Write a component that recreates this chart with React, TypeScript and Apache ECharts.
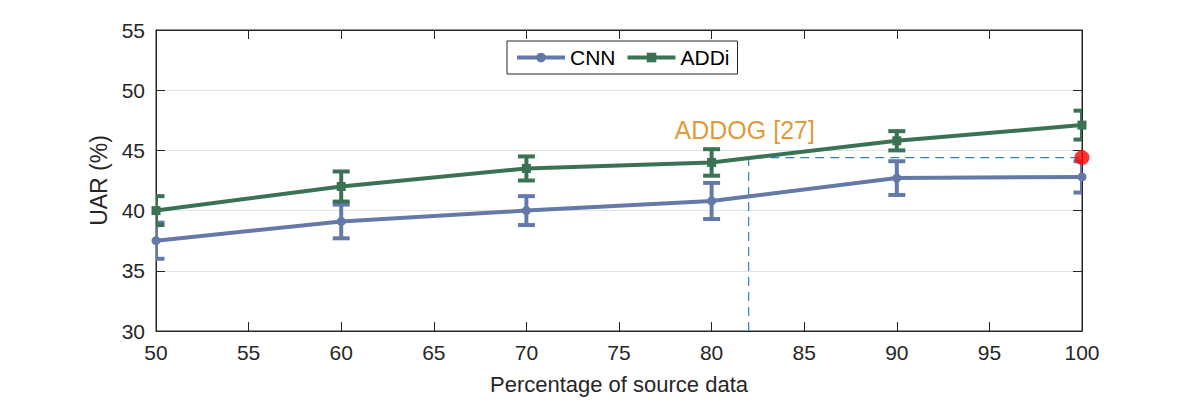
import React, { useEffect, useRef } from 'react';
import * as echarts from 'echarts';

// x positions (percentage of source data)
const percentages = [50, 60, 70, 80, 90, 100];

// mean UAR and error half-widths
const cnnValues = [37.5, 39.1, 40.0, 40.8, 42.7, 42.8];
const cnnErrors = [1.5, 1.4, 1.2, 1.5, 1.4, 1.3];
const addiValues = [40.0, 42.0, 43.5, 44.0, 45.8, 47.1];
const addiErrors = [1.2, 1.25, 1.0, 1.1, 0.8, 1.2];

// reference result of ADDOG [27]
const addogValue = 44.4;
const addogPercent = 82;
const addogLabelPos = [78, 46.7];

const CNN_COLOR = '#6579A8';
const ADDI_COLOR = '#3B7254';
const FONT = 'Liberation Sans, Arial, Helvetica, sans-serif';

const errorSeries = (name: string, values: number[], errors: number[], color: string) => ({
  name,
  type: 'custom',
  clip: true,
  z: 3,
  itemStyle: { color },
  data: percentages.map((p, i) => [p, values[i] - errors[i], values[i] + errors[i]]),
  renderItem: (params: any, api: any) => {
    const x = api.value(0);
    const lo = api.coord([x, api.value(1)]);
    const hi = api.coord([x, api.value(2)]);
    const hw = 8.5;
    const style = { stroke: color, lineWidth: 4, fill: 'none' };
    return {
      type: 'group',
      children: [
        { type: 'line', shape: { x1: lo[0], y1: lo[1], x2: hi[0], y2: hi[1] }, style },
        { type: 'line', shape: { x1: hi[0] - hw, y1: hi[1], x2: hi[0] + hw, y2: hi[1] }, style },
        { type: 'line', shape: { x1: lo[0] - hw, y1: lo[1], x2: lo[0] + hw, y2: lo[1] }, style }
      ]
    };
  }
});

const App: React.FC = () => {
  const chartRef = useRef<HTMLDivElement>(null);

  useEffect(() => {
    if (!chartRef.current) return;
    const chart = echarts.init(chartRef.current, undefined, { renderer: 'svg' });

    const axisText = { fontSize: 21, color: '#262626', fontFamily: FONT };

    const option: any = {
      animation: false,
      backgroundColor: '#ffffff',
      grid: {
        left: 156,
        right: 114,
        top: 30,
        bottom: 73,
        containLabel: false,
        show: true,
        borderColor: '#262626',
        borderWidth: 1
      },
      legend: {
        left: 507,
        top: 41,
        data: ['CNN', 'ADDi'],
        backgroundColor: '#ffffff',
        borderColor: '#262626',
        borderWidth: 1,
        padding: [6, 8, 6, 8],
        itemWidth: 48,
        itemHeight: 12,
        itemGap: 10,
        lineStyle: { width: 4 },
        textStyle: { fontSize: 21, color: '#000', fontFamily: FONT }
      },
      xAxis: [
        {
          type: 'value',
          min: 50,
          max: 100,
          interval: 5,
          name: 'Percentage of source data',
          nameLocation: 'middle',
          nameGap: 42,
          nameTextStyle: { fontSize: 22, color: '#262626', fontFamily: FONT },
          axisLine: { show: true, onZero: false, lineStyle: { color: '#262626', width: 1 } },
          axisTick: { show: true, inside: true, length: 9, lineStyle: { color: '#262626' } },
          axisLabel: { ...axisText, margin: 11 },
          splitLine: { show: false }
        },
        {
          type: 'value',
          position: 'top',
          min: 50,
          max: 100,
          interval: 5,
          axisLine: { show: true, onZero: false, lineStyle: { color: '#262626', width: 1 } },
          axisTick: { show: true, inside: true, length: 9, lineStyle: { color: '#262626' } },
          axisLabel: { show: false },
          splitLine: { show: false }
        }
      ],
      yAxis: [
        {
          type: 'value',
          min: 30,
          max: 55,
          interval: 5,
          name: 'UAR (%)',
          nameLocation: 'middle',
          nameGap: 45,
          nameTextStyle: { fontSize: 23, color: '#262626', fontFamily: FONT },
          axisLine: { show: true, onZero: false, lineStyle: { color: '#262626', width: 1 } },
          axisTick: { show: true, inside: true, length: 9, lineStyle: { color: '#262626' } },
          axisLabel: { ...axisText, margin: 11 },
          splitLine: { show: true, lineStyle: { color: '#e3e3e3', width: 1 } }
        },
        {
          type: 'value',
          position: 'right',
          min: 30,
          max: 55,
          interval: 5,
          axisLine: { show: true, onZero: false, lineStyle: { color: '#262626', width: 1 } },
          axisTick: { show: true, inside: true, length: 9, lineStyle: { color: '#262626' } },
          axisLabel: { show: false },
          splitLine: { show: false }
        }
      ],
      series: [
        {
          name: 'ADDOG',
          type: 'line',
          z: 1,
          symbol: 'none',
          silent: true,
          lineStyle: { color: '#2F80CF', width: 1.2, type: [9, 6] },
          data: [
            [addogPercent, 30],
            [addogPercent, addogValue],
            [100, addogValue]
          ]
        },
        errorSeries('CNN error', cnnValues, cnnErrors, CNN_COLOR),
        errorSeries('ADDi error', addiValues, addiErrors, ADDI_COLOR),
        {
          name: 'CNN',
          type: 'line',
          z: 4,
          symbol: 'circle',
          symbolSize: 9,
          itemStyle: { color: CNN_COLOR },
          lineStyle: { color: CNN_COLOR, width: 4 },
          data: percentages.map((p, i) => [p, cnnValues[i]])
        },
        {
          name: 'ADDi',
          type: 'line',
          z: 4,
          symbol: 'rect',
          symbolSize: 9,
          itemStyle: { color: ADDI_COLOR },
          lineStyle: { color: ADDI_COLOR, width: 4 },
          data: percentages.map((p, i) => [p, addiValues[i]])
        },
        {
          name: 'ADDOG point',
          type: 'scatter',
          z: 6,
          clip: false,
          symbol: 'circle',
          symbolSize: 15,
          itemStyle: { color: '#FF0000' },
          data: [[100, addogValue]]
        },
        {
          name: 'ADDOG label',
          type: 'scatter',
          z: 6,
          symbolSize: 0,
          silent: true,
          label: {
            show: true,
            position: 'right',
            distance: 0,
            formatter: 'ADDOG [27]',
            fontSize: 25,
            color: '#DB7E00',
            fontFamily: FONT
          },
          data: [addogLabelPos]
        }
      ]
    };

    chart.setOption(option);
    return () => chart.dispose();
  }, []);

  return (
    <div
      ref={chartRef}
      style={{ position: 'fixed', left: 0, top: 0, width: 1196, height: 404, background: '#fff' }}
    />
  );
};

export default App;
